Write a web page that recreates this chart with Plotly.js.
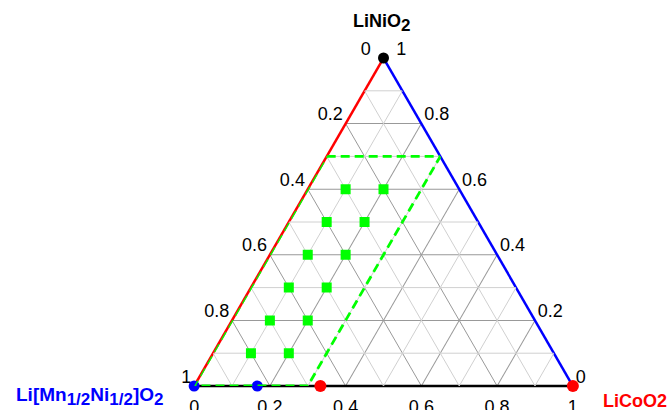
<!DOCTYPE html>
<html>
<head>
<meta charset="utf-8">
<script src="https://cdn.plot.ly/plotly-3.0.1.min.js"></script>
<style>html,body{margin:0;padding:0;background:#fff;}#chart{width:672px;height:410px;}</style>
</head>
<body>
<div id="chart"></div>
<script>
// Tick positions and labels (labels run the opposite way to Plotly's default)
const tickVals = [0, 0.2, 0.4, 0.6, 0.8, 1];
const aTickLabels = ["1", "0.8", "0.6", "0.4", "0.2", "0&nbsp;&nbsp;"];
const bTickLabels = ["1", "0.8", "0.6", "0.4", "0.2", "0"];
const cTickLabels = ["&nbsp;&nbsp;1", "0.8", "0.6", "0.4", "0.2", "0"];
const minorVals = [0.1, 0.3, 0.5, 0.7, 0.9];

// Composition points: a = LiNiO2, b = Li[Mn1/2Ni1/2]O2, c = LiCoO2
const squareA = [0.6, 0.6, 0.5, 0.5, 0.4, 0.4, 0.3, 0.3, 0.2, 0.2, 0.1, 0.1];
const squareC = [0.1, 0.2, 0.1, 0.2, 0.1, 0.2, 0.1, 0.2, 0.1, 0.2, 0.1, 0.2];

const regionA = [0.7, 0.7, 0.0, 0.0, 0.7];
const regionB = [0.3, 0.0, 0.7, 1.0, 0.3];
const regionC = [0.0, 0.3, 0.3, 0.0, 0.0];

const blackA = [1], blackB = [0], blackC = [0];
const blueA = [0, 0], blueB = [1, 0.8333], blueC = [0, 0.1667];
const redA = [0, 0], redB = [0.6667, 0], redC = [0.3333, 1];

// minor grid lines (light), built from minorVals
const gA = [], gB = [], gC = [];
minorVals.forEach(k => {
  gA.push(k, k, null); gB.push(1 - k, 0, null); gC.push(0, 1 - k, null);
  gA.push(1 - k, 0, null); gB.push(k, k, null); gC.push(0, 1 - k, null);
  gA.push(1 - k, 0, null); gB.push(0, 1 - k, null); gC.push(k, k, null);
});

const squareB = squareA.map((a, i) => +(1 - a - squareC[i]).toFixed(3));

const traces = [
  {type: 'scatterternary', mode: 'lines', a: gA, b: gB, c: gC,
   line: {color: '#d0d0d0', width: 1}, hoverinfo: 'skip', showlegend: false, connectgaps: false},
  {type: 'scatterternary', mode: 'markers', a: blueA, b: blueB, c: blueC, cliponaxis: false,
   marker: {color: '#0000ff', size: 11, symbol: 'circle'}, showlegend: false},
  {type: 'scatterternary', mode: 'lines', a: regionA, b: regionB, c: regionC, cliponaxis: false,
   line: {color: '#00ff00', width: 2.8, dash: '9px,5px'}, showlegend: false},
  {type: 'scatterternary', mode: 'markers', a: squareA, b: squareB, c: squareC,
   marker: {color: '#00ff00', size: 10, symbol: 'square'}, showlegend: false},
  {type: 'scatterternary', mode: 'markers', a: redA, b: redB, c: redC, cliponaxis: false,
   marker: {color: '#ff0000', size: 12, symbol: 'circle'}, showlegend: false},
  {type: 'scatterternary', mode: 'markers', a: blackA, b: blackB, c: blackC, cliponaxis: false,
   marker: {color: '#000000', size: 11, symbol: 'circle'}, showlegend: false}
];

const FONT = 'Arial, Liberation Sans, sans-serif';
// raise (side labels) or lower (bottom labels) the tick text a little, keeping full size
const raise = t => '<sup><span style="font-size:18px">' + t + '</span></sup>';
const lower = t => '<sub><span style="font-size:18px">' + t + '</span></sub>';

function axis(color, ticktext) {
  return {
    tickmode: 'array', tickvals: tickVals, ticktext: ticktext,
    ticks: '', showgrid: true, gridcolor: '#999999', gridwidth: 1,
    linecolor: color, linewidth: 2.5, showline: true, layer: 'below traces',
    tickfont: {family: FONT, size: 18, color: '#000'},
    title: {text: ''},
    min: 0
  };
}

const sub = t => '<sub><span style="font-size:17px">' + t + '</span></sub>';

const layout = {
  width: 672, height: 410,
  margin: {l: 120, r: 25, t: 58, b: 24},
  paper_bgcolor: '#fff',
  showlegend: false,
  font: {family: FONT},
  ternary: {sum: 1, bgcolor: '#fff',
    aaxis: axis('#ff0000', aTickLabels.map(raise)),
    baxis: axis('#000000', bTickLabels.map(lower)),
    caxis: axis('#0000ff', cTickLabels.map(raise))},
  annotations: [
    {xref: 'paper', yref: 'paper', x: 0.4953, y: 1.108, xanchor: 'center', yanchor: 'middle',
     showarrow: false, text: '<b>LiNiO' + sub('2') + '</b>', font: {family: FONT, size: 18, color: '#000'}},
    {xref: 'paper', yref: 'paper', x: 0.0873, y: -0.0335, xanchor: 'right', yanchor: 'middle',
     showarrow: false, text: '<b>Li[Mn' + sub('1/2') + 'Ni' + sub('1/2') + ']O' + sub('2') + '</b>',
     font: {family: FONT, size: 19, color: '#0000ff'}},
    {xref: 'paper', yref: 'paper', x: 0.9127, y: -0.0457, xanchor: 'left', yanchor: 'middle',
     showarrow: false, text: '<b>LiCoO2</b>', font: {family: FONT, size: 18, color: '#ff0000'}}
  ]
};

Plotly.newPlot('chart', traces, layout, {displayModeBar: false, staticPlot: true});
</script>
</body>
</html>
